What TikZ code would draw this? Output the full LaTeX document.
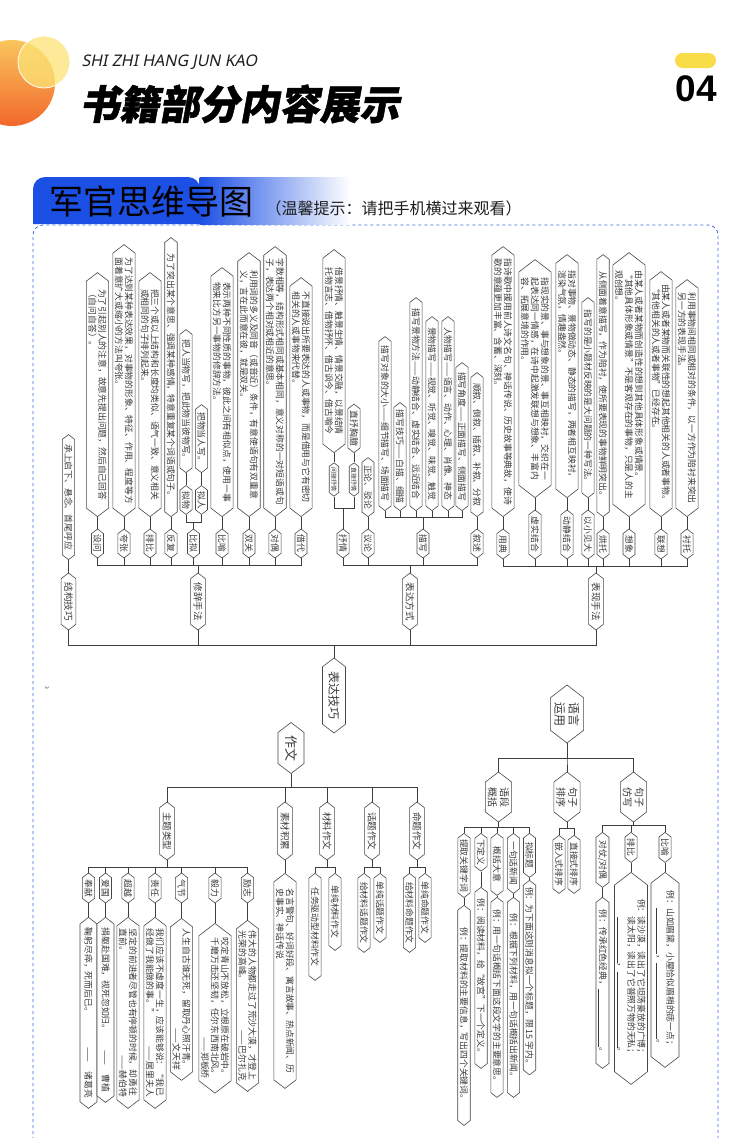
\documentclass[tikz,border=0pt]{standalone}
\usepackage{fontspec}
\setmainfont{Noto Sans CJK SC}
\newfontfamily\titlefont[FakeSlant=0.18,FakeBold=1.2]{Noto Sans CJK SC}
\newfontfamily\latinfont[FakeSlant=0.2]{Noto Sans}
\newfontfamily\numfont{Liberation Sans}
\usepackage{tikz}
\usetikzlibrary{shapes.symbols}
\definecolor{bannerBlue}{RGB}{28,80,228}
\definecolor{borderBlue}{RGB}{58,108,228}
\definecolor{pillYellow}{RGB}{248,220,72}
\definecolor{sunOrange}{RGB}{242,104,44}
\definecolor{sunYellow}{RGB}{250,196,92}
\definecolor{paleYellow}{RGB}{252,228,118}
\definecolor{headDark}{RGB}{30,30,30}
\definecolor{mapGray}{RGB}{72,72,72}
\definecolor{mapText}{RGB}{58,58,58}
\definecolor{mapLine}{RGB}{62,62,62}

\begin{document}
\begin{tikzpicture}[x=1pt,y=-1pt,
  box/.style={signal, signal to=east and west, signal pointer angle=105,
    draw=mapGray, line width=0.6pt, fill=white, rotate=-90, align=left,
    inner xsep=2pt, inner ysep=2pt, text=mapText, font=\fontsize{8.8}{10}\selectfont},
  tagbox/.style={box, inner xsep=1pt},
  headbox/.style={box, inner xsep=1pt, inner ysep=3pt, font=\fontsize{9.5}{11}\selectfont},
  midbox/.style={box, inner ysep=2.5pt, font=\fontsize{10}{12}\selectfont},
  link/.style={mapLine, line width=0.7pt}]
\useasboundingbox (0,0) rectangle (750,1138);
\fill[white] (0,0) rectangle (750,1138);
\begin{scope}
\clip (0,0) rectangle (750,1138);
\shade[top color=sunYellow, bottom color=sunOrange] (12,83) circle (43);
\fill[paleYellow, opacity=0.75] (44,62) circle (26);
\draw[white, line width=0.8pt] (44,62) circle (26);
\draw[borderBlue, dashed, line width=0.8pt, rounded corners=10pt] (33,1170) -- (33,225) -- (718,225) -- (718,1170);
\end{scope}
\node[anchor=west, text=headDark, font=\latinfont\fontsize{16}{16}\selectfont] (pinyin) at (78,62) {SHI ZHI HANG JUN KAO};
\node[anchor=west, text=black, font=\titlefont\bfseries\fontsize{40}{40}\selectfont] (title) at (76,104) {书籍部分内容展示};
\fill[pillYellow, rounded corners=7.5pt] (675,53) rectangle (716,68);
\node[text=black, font=\numfont\bfseries\fontsize{37}{37}\selectfont] (pagenum) at (696,89) {04};

\fill[bannerBlue] (33,224) [rounded corners=12pt] -- (33,177) -- (200,177) [sharp corners] -- (200,224) -- cycle;
\shade[left color=bannerBlue, right color=white] (199.5,177) rectangle (350,224);
\node[anchor=base west, text=black, font=\fontsize{34}{34}\selectfont] (bannerTitle) at (46,214) {军官思维导图};
\node[anchor=base west, text=headDark, font=\fontsize{16}{16}\selectfont] (bannerTip) at (262,214) {（温馨提示：请把手机横过来观看）};

% 表达技巧
\node[box, minimum width=75, inner ysep=6pt, font=\fontsize{12}{14}\selectfont] (jiqiao) at (334,695.5) {表达技巧};
\coordinate (jiqiao-bar) at (334,645);
\node[headbox, minimum width=57] (jiegou) at (68.5,601.5) {结构技巧};
\node[headbox, minimum width=57] (xiuci) at (198,601.5) {修辞手法};
\node[headbox, minimum width=57] (biaoda) at (410,601.5) {表达方式};
\node[headbox, minimum width=57] (biaoxian) at (596,601.5) {表现手法};
\node[box, minimum width=125, anchor=east] (jiegou-1) at (68.5,560) {承上启下、悬念、首尾呼应};

% 修辞手法
\coordinate (xiuci-bar) at (198,565);
\node[tagbox, minimum width=29] (shewen) at (97.5,543.5) {设问};
\node[tagbox, minimum width=29] (kuazhang) at (124,543.5) {夸张};
\node[tagbox, minimum width=29] (paibi) at (150,543.5) {排比};
\node[tagbox, minimum width=29] (fanfu) at (171,543.5) {反复};
\node[tagbox, minimum width=29] (bini) at (193.5,543.5) {比拟};
\node[tagbox, minimum width=29] (biyu) at (222,543.5) {比喻};
\node[tagbox, minimum width=29] (shuangguan) at (249,543.5) {双关};
\node[tagbox, minimum width=29] (duiou) at (275,543.5) {对偶};
\node[tagbox, minimum width=29] (jiedai) at (301,543.5) {借代};
\node[box, minimum width=244, anchor=east] (shewen-1) at (97.5,517) {为了引起别人的注意，故意先提出问题，然后自己回答\\（自问自答）。};
\node[box, minimum width=272, anchor=east] (kuazhang-1) at (124,517) {为了达到某种表达效果，对事物的形象、特征、作用、程度等方\\面着意扩大或缩小的方法叫夸张。};
\node[box, minimum width=244, anchor=east] (paibi-1) at (150,517) {把三个或以上结构和长度均类似、语气一致、意义相关\\或相同的句子排列起来。};
\node[box, minimum width=279, anchor=east] (fanfu-1) at (171,517) {为了突出某个意思、强调某种感情，特意重复某个词语或句子。};
\coordinate (bini-bar) at (193.5,522);
\node[tagbox, minimum width=26] (niwu) at (186,500) {拟物};
\node[tagbox, minimum width=26] (niren) at (201.5,500) {拟人};
\node[box, minimum width=143, anchor=east] (niwu-1) at (186,473) {把人当物写，把此物当彼物写。};
\node[box, minimum width=68, anchor=east] (niren-1) at (201.5,473) {把物当人写。};
\node[box, minimum width=249, anchor=east] (biyu-1) at (222,517) {表示两种不同性质的事物，彼此之间有相似点，使用一事\\物来比方另一事物的修辞方法。};
\node[box, minimum width=264, anchor=east] (shuangguan-1) at (249,517) {利用词的多义及同音（或音近）条件，有意使语句有双重意\\义，言在此而意在彼，就是双关。};
\node[box, minimum width=270, anchor=east] (duiou-1) at (275,517) {字数相等，结构形式相同或基本相同，意义对称的一对短语或句\\子，表达两个相对或相近的意思。};
\node[box, minimum width=239, anchor=east] (jiedai-1) at (301,517) {不直接说出所要表达的人或事物，而是借用与它有密切\\相关的人或事物来代替。};

% 表达方式
\coordinate (biaoda-bar) at (410,565);
\node[tagbox, minimum width=29] (shuqing) at (343,543.5) {抒情};
\node[tagbox, minimum width=29] (yilun) at (368,543.5) {议论};
\node[tagbox, minimum width=29] (miaoxie) at (423,543.5) {描写};
\node[tagbox, minimum width=29] (xushu) at (477,543.5) {叙述};
\coordinate (shuqing-bar) at (343,508);
\node[tagbox, minimum width=25, font=\fontsize{6}{7}\selectfont] (jianjie) at (334,479.5) {间接抒情};
\node[tagbox, minimum width=25, font=\fontsize{6}{7}\selectfont] (zhijie) at (354,479.5) {直接抒情};
\node[box, minimum width=203, anchor=east] (jianjie-1) at (334,453) {借景抒情、触景生情、情景交融，以景结情\\托物言志、借物抒怀、借古讽今、借古喻今};
\node[box, minimum width=48, anchor=east] (zhijie-1) at (354,453) {直抒胸臆};
\node[box, minimum width=59, anchor=east] (yilun-1) at (368,517) {正论、驳论};
\coordinate (miaoxie-bar) at (423,517);
\node[box, minimum width=174, anchor=east] (miaoxie-1) at (385,511) {描写对象的大小——细节描写、场面描写};
\node[box, minimum width=108, anchor=east] (miaoxie-2) at (400,511) {描写技巧——白描、细描};
\node[box, minimum width=213, anchor=east] (miaoxie-3) at (416,511) {描写景物方法——动静结合、虚实结合、远近结合};
\node[box, minimum width=194, anchor=east] (miaoxie-4) at (432,511) {景物描写——视觉、听觉、嗅觉、味觉、触觉};
\node[box, minimum width=194, anchor=east] (miaoxie-5) at (448,511) {人物描写——语言、动作、心理、肖像、神态};
\node[box, minimum width=148, anchor=east] (miaoxie-6) at (462,511) {描写角度——正面描写、侧面描写};
\node[box, minimum width=144, anchor=east] (xushu-1) at (477,517) {顺叙、倒叙、插叙、补叙、分叙};

% 表现手法
\coordinate (biaoxian-bar) at (596,566);
\node[tagbox, minimum width=30] (yongdian) at (503,544) {用典};
\node[tagbox, minimum width=49] (xushi) at (535,534.5) {虚实结合};
\node[tagbox, minimum width=49] (dongjing) at (567,534.5) {动静结合};
\node[tagbox, minimum width=49] (yixiao) at (588,534.5) {以小见大};
\node[tagbox, minimum width=30] (hongtuo) at (603,544) {烘托};
\node[tagbox, minimum width=30] (xiangxiang) at (629,544) {想象};
\node[tagbox, minimum width=30] (lianxiang) at (661,544) {联想};
\node[tagbox, minimum width=30] (chentuo) at (687,544) {衬托};
\node[box, minimum width=270, anchor=east] (yongdian-1) at (503,517) {指诗歌中援用前人诗文名句、神话传说、历史故事等典故，使诗\\歌的意蕴更加丰富、含蓄、深刻。};
\node[box, minimum width=238, anchor=east] (xushi-1) at (535,498) {指现实的景、事与想象的景、事互相映衬，交织在一\\起表达同一情感，在诗中起激发联想与想象、丰富内\\容、拓展意境的作用。};
\node[box, minimum width=243, anchor=east] (dongjing-1) at (567,498) {指对事物、景物做动态、静态的描写，两者相互映衬，\\渲染气氛，情趣盎然。};
\node[box, minimum width=200, anchor=east] (yixiao-1) at (588,498) {指写的是小题材反映的是大问题的一种写法。};
\node[box, minimum width=262, anchor=east] (hongtuo-1) at (603,517) {从侧面着意描写，作为陪衬，使所要表现的事物鲜明突出。};
\node[box, minimum width=264, anchor=east] (xiangxiang-1) at (629,517) {由某人或者某物而创造性的想到其他具体形象或情景。\\“其他具体形象或情景”不是客观存在的事物，只是人的主\\观创想。};
\node[box, minimum width=245, anchor=east] (lianxiang-1) at (661,517) {由某人或者某物而关联性的想起其他相关的人或者事物。\\“其他相关的人或者事物”已经存在。};
\node[box, minimum width=237, anchor=east] (chentuo-1) at (687,517) {利用事物间相同或相对的条件，以一方作为陪衬来突出\\另一方的表现手法。};

\draw[link] (jiegou-1.east) -- (jiegou.west);
\foreach \nm in {shewen,kuazhang,paibi,fanfu,niwu,niren,biyu,shuangguan,duiou,jiedai,jianjie,zhijie,yilun,xushu,yongdian,xushi,dongjing,yixiao,hongtuo,xiangxiang,lianxiang,chentuo}
  \draw[link] (\nm-1.east) -- (\nm.west);
\foreach \nm in {niwu,niren}
  \draw[link] (\nm.east) |- (bini-bar) -| (bini.west);
\foreach \nm in {jianjie,zhijie}
  \draw[link] (\nm.east) |- (shuqing-bar) -| (shuqing.west);
\foreach \nm in {1,...,6}
  \draw[link] (miaoxie-\nm.east) |- (miaoxie-bar) -| (miaoxie.west);
\foreach \nm in {shewen,kuazhang,paibi,fanfu,bini,biyu,shuangguan,duiou,jiedai}
  \draw[link] (\nm.east) |- (xiuci-bar) -| (xiuci.west);
\foreach \nm in {shuqing,yilun,miaoxie,xushu}
  \draw[link] (\nm.east) |- (biaoda-bar) -| (biaoda.west);
\foreach \nm in {yongdian,xushi,dongjing,yixiao,hongtuo,xiangxiang,lianxiang,chentuo}
  \draw[link] (\nm.east) |- (biaoxian-bar) -| (biaoxian.west);
\foreach \nm in {jiegou,xiuci,biaoda,biaoxian}
  \draw[link] (\nm.east) |- (jiqiao-bar) -| (jiqiao.west);

\node[rotate=-90, text=mapText, font=\fontsize{5}{5}\selectfont] (pagemark) at (47,688) {3};

% 作文
\node[box, minimum width=51, inner ysep=7pt, font=\fontsize{13}{15}\selectfont] (zuowen) at (291,748) {作文};
\coordinate (zuowen-bar) at (291,787);
\node[headbox, minimum width=58] (zhuti) at (167,831) {主题类型};
\node[headbox, minimum width=58] (sucai) at (285,831) {素材积累};
\node[headbox, minimum width=58] (cailiao) at (327,831) {材料作文};
\node[headbox, minimum width=58] (huati) at (372,831) {话题作文};
\node[headbox, minimum width=58] (mingti) at (417,831) {命题作文};
\coordinate (zhuti-bar) at (167,867);
\node[tagbox, minimum width=30] (fengxian) at (88.5,888) {奉献};
\node[tagbox, minimum width=30] (aiguo) at (105.5,888) {爱国};
\node[tagbox, minimum width=30] (chaoyue) at (128,888) {超越};
\node[tagbox, minimum width=30] (zeren) at (155,888) {责任};
\node[tagbox, minimum width=30] (qijie) at (181.5,888) {气节};
\node[tagbox, minimum width=30] (yili) at (215,888) {毅力};
\node[tagbox, minimum width=30] (lizhi) at (247.5,888) {励志};
\node[box, minimum width=191, minimum height=17, text width=170, anchor=west] (fengxian-1) at (88.5,917) {鞠躬尽瘁，死而后已。\hfill ——\quad 诸葛亮};
\node[box, minimum width=185, minimum height=17, text width=164, anchor=west] (aiguo-1) at (105.5,917) {捐躯赴国难，视死忽如归。\hfill ——\quad 曹植};
\node[box, minimum width=191, text width=168, anchor=west] (chaoyue-1) at (128,917) {坚定的前进者尽管也有停顿的时候，却勇往\\直前。\hfill ——赫伯特};
\node[box, minimum width=191, text width=168, anchor=west] (zeren-1) at (155,917) {我们应该不虚度一生，应该能够说：“我已\\经做了我能做的事。”\hfill ——居里夫人};
\node[box, minimum width=152, text width=141, anchor=west] (qijie-1) at (181.5,918) {人生自古谁无死，留取丹心照汗青。\\\mbox{}\hfill ——文天祥};
\node[box, minimum width=157, text width=141, anchor=west] (yili-1) at (215,923) {咬定青山不放松，立根原在破岩中。\\千磨万击还坚韧，任尔东西南北风。\\\mbox{}\hfill ——郑板桥};
\node[box, minimum width=167, text width=150, anchor=west] (lizhi-1) at (247.5,920) {伟大的人物都走过了荒沙大漠，才登上\\光荣的高峰。\hfill ——巴尔扎克};
\node[box, minimum width=215, anchor=west] (sucai-1) at (285,873) {名言警句、好词好段、寓言故事、热点新闻、历\\史事实、神话传说};
\coordinate (cailiao-bar) at (327,867);
\node[tagbox, minimum width=107, anchor=west] (cailiao-ren) at (315,873) {任务驱动型材料作文};
\node[tagbox, minimum width=77, anchor=west] (cailiao-dan) at (335,873) {单纯材料作文};
\coordinate (huati-bar) at (372,867);
\node[tagbox, minimum width=79, anchor=west] (huati-gei) at (364,873) {给材料话题作文};
\node[tagbox, minimum width=69, anchor=west] (huati-dan) at (380,873) {单纯话题作文};
\coordinate (mingti-bar) at (417,867);
\node[tagbox, minimum width=79, anchor=west] (mingti-gei) at (409.5,873) {给材料命题作文};
\node[tagbox, minimum width=69, anchor=west] (mingti-dan) at (425,873) {单纯命题作文};

\foreach \nm in {zhuti,sucai,cailiao,huati,mingti}
  \draw[link] (zuowen.east) -- (zuowen-bar) -| (\nm.west);
\foreach \nm in {fengxian,aiguo,chaoyue,zeren,qijie,yili,lizhi} {
  \draw[link] (zhuti.east) -- (zhuti-bar) -| (\nm.west);
  \draw[link] (\nm.east) -- (\nm-1.west);
}
\draw[link] (sucai.east) -- (sucai-1.west);
\foreach \nm in {cailiao-ren,cailiao-dan}
  \draw[link] (cailiao.east) -- (cailiao-bar) -| (\nm.west);
\foreach \nm in {huati-gei,huati-dan}
  \draw[link] (huati.east) -- (huati-bar) -| (\nm.west);
\foreach \nm in {mingti-gei,mingti-dan}
  \draw[link] (mingti.east) -- (mingti-bar) -| (\nm.west);

% 语言运用
\node[box, minimum width=58, inner ysep=4pt, font=\fontsize{12}{14}\selectfont] (yuyan) at (567,714) {语言\\运用};
\coordinate (yuyan-bar) at (567,758);
\node[midbox, minimum width=50] (yuduan) at (498.5,797) {语段\\概括};
\node[midbox, minimum width=50] (juzi) at (567,797) {句子\\排序};
\node[midbox, minimum width=50] (fangxie) at (633.5,797) {句子\\仿写};
\coordinate (yuduan-bar) at (498.5,827);
\node[tagbox, minimum width=60, anchor=west] (guanjian) at (464,833) {提取关键字词};
\node[tagbox, minimum width=29, anchor=west] (dingyi) at (481,833) {下定义};
\node[tagbox, minimum width=62, anchor=west] (dayi) at (497,833) {概括大意};
\node[tagbox, minimum width=60, anchor=west] (xinwen) at (513.5,833) {一句话新闻};
\node[tagbox, minimum width=44, anchor=west] (biaoti) at (529.5,833) {拟标题};
\node[box, minimum width=220, anchor=west] (guanjian-1) at (464,905) {例：提取材料的主要信息，写出四个关键词。};
\node[box, minimum width=181, anchor=west] (dingyi-1) at (481,887) {例：阅读材料，给“故宫”下一个定义。};
\node[box, minimum width=200, anchor=west] (dayi-1) at (497,897) {例：用一句话概括下面这段文字的主要意思。};
\node[box, minimum width=200, anchor=west] (xinwen-1) at (513.5,897) {例：根据下列材料，用一句话概括出新闻。};
\node[box, minimum width=190, anchor=west] (biaoti-1) at (529.5,880) {例：为下面这则消息拟一个标题，限 15 字内。};
\coordinate (juzi-bar) at (567,828);
\node[tagbox, minimum width=58, anchor=west] (qianru) at (559,835) {嵌入式排序};
\node[tagbox, minimum width=58, anchor=west] (zhijiepx) at (574,835) {直接式排序};
\coordinate (fangxie-bar) at (633.5,825);
\node[tagbox, minimum width=55, anchor=west] (duizhang) at (602.5,832) {对仗/对偶};
\node[tagbox, minimum width=30, anchor=west] (fxpaibi) at (631,832) {排比};
\node[tagbox, minimum width=30, anchor=west] (fxbiyu) at (665,832) {比喻};
\node[box, minimum width=171, anchor=west] (duizhang-1) at (602.5,897) {例：传承红色经典，\rule[-1.5pt]{58pt}{0.4pt}。};
\node[box, minimum width=212, anchor=west] (fxpaibi-1) at (631,872) {例：读沙漠，读出了它坦荡豪放的广博；\\\hspace*{2em}读太阳，读出了它普照万物的无私；\\\hspace*{2em}\rule[-1.5pt]{46pt}{0.4pt}，\rule[-1.5pt]{76pt}{0.4pt}。};
\node[box, minimum width=195, minimum height=28, anchor=west] (fxbiyu-1) at (665,872) {例：山如眉黛，小屋恰似眉梢的痣一点；\\\hspace*{2em}\rule[-1.5pt]{46pt}{0.4pt}，\rule[-1.5pt]{76pt}{0.4pt}。};

\foreach \nm in {yuduan,juzi,fangxie}
  \draw[link] (yuyan.east) -- (yuyan-bar) -| (\nm.west);
\foreach \nm in {guanjian,dingyi,dayi,xinwen,biaoti} {
  \draw[link] (yuduan.east) -- (yuduan-bar) -| (\nm.west);
  \draw[link] (\nm.east) -- (\nm-1.west);
}
\foreach \nm in {qianru,zhijiepx}
  \draw[link] (juzi.east) -- (juzi-bar) -| (\nm.west);
\foreach \nm in {duizhang,fxpaibi,fxbiyu} {
  \draw[link] (fangxie.east) -- (fangxie-bar) -| (\nm.west);
  \draw[link] (\nm.east) -- (\nm-1.west);
}
\end{tikzpicture}
\end{document}
